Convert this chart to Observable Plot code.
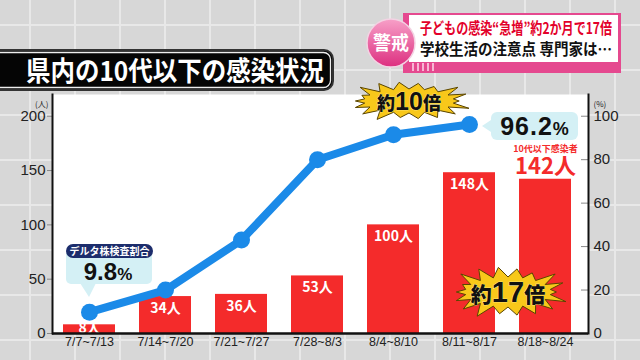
<!DOCTYPE html>
<html><head><meta charset="utf-8">
<script src="https://cdn.jsdelivr.net/npm/d3@7"></script>
<script src="https://cdn.jsdelivr.net/npm/@observablehq/plot@0.6"></script>
<style>
html,body{margin:0;padding:0;}
body{width:640px;height:360px;overflow:hidden;background-color:#d7d7d7;
background-image:linear-gradient(#e8e8e8 2px,transparent 2px),linear-gradient(90deg,#e8e8e8 2px,transparent 2px);
background-size:45px 45px;background-position:29px 24px;}
#wrap{position:relative;width:640px;height:360px;}
#wrap svg{position:absolute;left:0;top:0;}
</style></head>
<body><div id="wrap"></div>
<script>
const weeks = ["7/7~7/13","7/14~7/20","7/21~7/27","7/28~8/3","8/4~8/10","8/11~8/17","8/18~8/24"];
const cases = [8, 34, 36, 53, 100, 148, 142];
const deltaPct = [9.8, 20, 43, 80, 91.5, 96.2];
const leftTicks = [0, 50, 100, 150, 200];
const rightTicks = [0, 20, 40, 60, 80, 100];
const K = 2; // 100% on the right axis ↔ 200人 on the left axis

const bars = weeks.map((w, i) => ({week: w, cases: cases[i]}));
const pts = deltaPct.map((p, i) => ({week: weeks[i], pct: p}));
const lastBar = bars[bars.length - 1];

const RED = "#f42b2b", BLUE = "#1b8ae8";
const JP = "'Noto Sans CJK JP', sans-serif";
const LAT = "'Liberation Sans', Arial, sans-serif";

const chart = Plot.plot({
  width: 640, height: 360,
  marginLeft: 52, marginRight: 52, marginTop: 94, marginBottom: 27,
  style: {background: "transparent", fontFamily: LAT, color: "#222"},
  x: {domain: weeks, paddingInner: 0.32, paddingOuter: 0.16, align: 0.4, axis: null},
  y: {domain: [0, 220], axis: null},
  marks: [
    Plot.frame({fill: "white", stroke: null}),
    Plot.barY(bars, {x: "week", y: "cases", fill: RED}),
    Plot.text(bars.slice(0, -1), {x: "week", y: d => Math.max(d.cases, 16), dy: 12, text: d => d.cases + "人",
      fill: "white", fontSize: 14, fontWeight: "bold", fontFamily: JP}),
    Plot.text([lastBar], {x: "week", y: "cases", dy: -12, text: d => d.cases + "人",
      fill: RED, fontSize: 22, fontWeight: "bold", fontFamily: JP}),
    Plot.text([lastBar], {x: "week", y: "cases", dy: -30, text: () => "10代以下感染者",
      fill: RED, fontSize: 9, fontWeight: "bold", fontFamily: JP}),
    Plot.line(pts, {x: "week", y: d => d.pct * K, stroke: BLUE, strokeWidth: 8, strokeLinejoin: "round"}),
    Plot.dot(pts, {x: "week", y: d => d.pct * K, r: 8.5, fill: BLUE}),
    Plot.axisY(leftTicks, {anchor: "left", label: null, tickSize: 5, tickPadding: 2, fontSize: 15, stroke: "#888", fill: "#222"}),
    Plot.axisY(rightTicks.map(d => d * K), {anchor: "right", label: null, tickFormat: d => d / K, tickSize: -8, tickPadding: 13,
      fontSize: 15, stroke: "#888", fill: "#222"}),
    Plot.axisX({label: null, tickSize: 0, tickPadding: 4, fontSize: 12.5, fill: "#222"}),
    Plot.frame({anchor: "left", stroke: "#111", strokeWidth: 2}),
    Plot.frame({anchor: "right", stroke: "#111", strokeWidth: 2}),
    Plot.ruleY([0], {stroke: "#111", strokeWidth: 2.5}),
    Plot.text(["(人)"], {frameAnchor: "top-left", dx: -4, dy: 7, textAnchor: "end", fontSize: 8, fontFamily: JP}),
    Plot.text(["(%)"], {frameAnchor: "top-right", dx: 5, dy: 7, textAnchor: "start", fontSize: 8, fontFamily: JP})
  ]
});
document.getElementById("wrap").appendChild(chart);

// ---- decorations ----
const svg = d3.select(chart);
const defs = svg.append("defs");
const gr = defs.append("linearGradient").attr("id", "pinkg").attr("x1", 0).attr("y1", 0).attr("x2", 0).attr("y2", 1);
gr.append("stop").attr("offset", "0%").attr("stop-color", "#f7a0c8");
gr.append("stop").attr("offset", "100%").attr("stop-color", "#dd2f80");

const g = svg.append("g").attr("text-anchor", "start");

// title box
g.append("rect").attr("x", -12).attr("y", 50).attr("width", 345).attr("height", 40).attr("rx", 9)
  .attr("fill", "#050505").attr("stroke", "#333").attr("stroke-width", 2);
g.append("rect").attr("x", -10).attr("y", 52.5).attr("width", 340.5).attr("height", 35).attr("rx", 7)
  .attr("fill", "none").attr("stroke", "#eee").attr("stroke-width", 1.3);
g.append("text").attr("x", 26).attr("y", 81).attr("text-anchor", "start").attr("fill", "white").attr("font-family", JP)
  .attr("font-size", 27).attr("font-weight", "bold").attr("textLength", 298).attr("lengthAdjust", "spacingAndGlyphs")
  .text("県内の10代以下の感染状況");

// headline badge
g.append("rect").attr("x", 403).attr("y", 13).attr("width", 218).attr("height", 60).attr("fill", "#e5498f");
g.append("rect").attr("x", 409).attr("y", 15).attr("width", 209).attr("height", 47).attr("fill", "white");
for (let i = 0; i < 5; i++) {
  g.append("rect").attr("x", 412 + i * 5).attr("y", 63).attr("width", 2).attr("height", 8).attr("fill", "#f7b6d4");
}
g.append("circle").attr("cx", 391).attr("cy", 43).attr("r", 24).attr("fill", "url(#pinkg)").attr("stroke", "#f3d3e3").attr("stroke-width", 1.5);
g.append("text").attr("x", 373).attr("y", 50).attr("text-anchor", "start").attr("fill", "white").attr("font-family", JP)
  .attr("font-size", 19).attr("font-weight", "bold").attr("textLength", 36).attr("lengthAdjust", "spacingAndGlyphs").text("警戒");
g.append("text").attr("x", 420).attr("y", 34).attr("text-anchor", "start").attr("fill", "#e3002a").attr("font-family", JP)
  .attr("font-size", 15.5).attr("font-weight", "bold").attr("textLength", 192).attr("lengthAdjust", "spacingAndGlyphs")
  .text("子どもの感染“急増”約2か月で17倍");
g.append("text").attr("x", 420).attr("y", 55).attr("text-anchor", "start").attr("fill", "#111").attr("font-family", JP)
  .attr("font-size", 15.5).attr("font-weight", "bold").attr("textLength", 192).attr("lengthAdjust", "spacingAndGlyphs")
  .text("学校生活の注意点 専門家は…");

// starbursts
function burst(cx, cy, rxo, ryo, rxi, ryi, n, jitter) {
  const p = [];
  for (let i = 0; i < 2 * n; i++) {
    const a = Math.PI * i / n;
    const o = i % 2 === 0;
    const j = o ? (1 + jitter * ((i * 7) % 5 - 2) / 10) : 1;
    p.push([(cx + (o ? rxo * j : rxi) * Math.cos(a)).toFixed(1), (cy + (o ? ryo * j : ryi) * Math.sin(a)).toFixed(1)].join(","));
  }
  return p.join(" ");
}
function starLabel(cx, cy, rxo, ryo, rxi, ryi, n, big, small, digits) {
  g.append("polygon").attr("points", burst(cx, cy, rxo, ryo, rxi, ryi, n, 0.6))
    .attr("fill", "#f8c81a").attr("stroke", "#5a4500").attr("stroke-width", 1).attr("stroke-linejoin", "round");
  const t = g.append("text").attr("x", cx).attr("y", cy + big * 0.36).attr("text-anchor", "middle")
    .attr("font-family", JP).attr("font-weight", 900).attr("fill", "#111")
    .attr("stroke", "#fff3b0").attr("stroke-width", 0.6).attr("paint-order", "stroke");
  t.append("tspan").attr("font-size", small).text("約");
  t.append("tspan").attr("font-size", big).attr("font-family", LAT).text(digits);
  t.append("tspan").attr("font-size", small).text("倍");
}
starLabel(409, 101, 57, 19, 45, 12, 18, 25, 18, "10");
starLabel(508, 292, 55, 25, 43, 15, 18, 29, 21, "17");

// callout: first point
g.append("path").attr("d", "M80,283 L89,297 L96,283 Z").attr("fill", "#d4f0f5");
g.append("rect").attr("x", 66).attr("y", 250).attr("width", 86).attr("height", 34).attr("rx", 5).attr("fill", "#d4f0f5");
g.append("rect").attr("x", 66).attr("y", 244).attr("width", 87).attr("height", 14).attr("rx", 7).attr("fill", "#1c2d6c");
g.append("text").attr("x", 109.5).attr("y", 255).attr("text-anchor", "middle").attr("fill", "white").attr("font-family", JP)
  .attr("font-size", 10).attr("font-weight", "bold").text("デルタ株検査割合");
const t1 = g.append("text").attr("x", 108).attr("y", 280).attr("text-anchor", "middle").attr("fill", "#111")
  .attr("font-family", LAT).attr("font-weight", "bold");
t1.append("tspan").attr("font-size", 24).text(deltaPct[0]);
t1.append("tspan").attr("font-size", 17).text("%");

// callout: last point
g.append("path").attr("d", "M482,126 L494,118 L494,134 Z").attr("fill", "#d4f0f5");
g.append("rect").attr("x", 491).attr("y", 112).attr("width", 87).attr("height", 28).attr("rx", 6).attr("fill", "#d4f0f5");
const t2 = g.append("text").attr("x", 535).attr("y", 135).attr("text-anchor", "middle").attr("fill", "#111")
  .attr("font-family", LAT).attr("font-weight", "bold").attr("letter-spacing", 1);
t2.append("tspan").attr("font-size", 25).text(deltaPct[deltaPct.length - 1]);
t2.append("tspan").attr("font-size", 18).text("%");
</script></body></html>
